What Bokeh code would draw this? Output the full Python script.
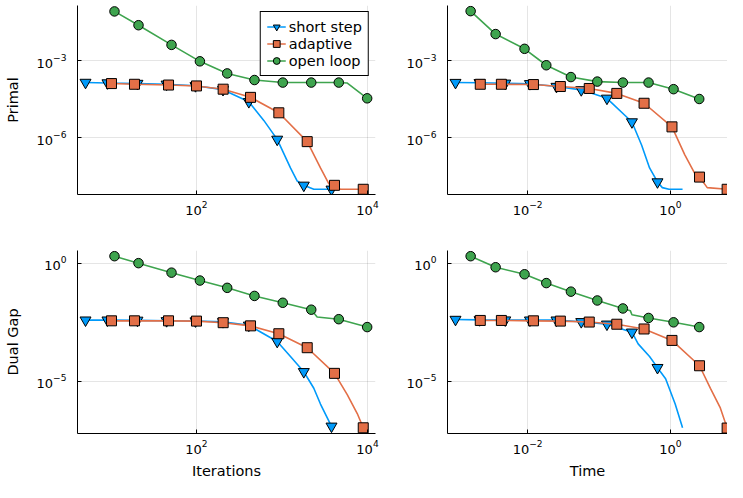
from bokeh.plotting import figure
from bokeh.layouts import gridplot
from bokeh.models import FixedTicker, Legend, LegendItem, Range1d
from bokeh.embed import file_html
from bokeh.resources import INLINE

# ---------------- series meta ----------------
series_names = ["short step", "adaptive", "open loop"]
series_colors = ["#009AFA", "#E36F47", "#3EA44E"]
series_markers = ["inverted_triangle", "square", "circle"]
marker_sizes = [11, 10, 9.5]

# ---------------- axes ----------------
iter_ticks = [1e2, 1e4]
time_ticks = [1e-2, 1e0]
primal_ticks = [1e-6, 1e-3]
dual_ticks = [1e-5, 1e0]

iter_limits = [4.06, 12400]
time_limits = [7.53e-4, 6.31]
primal_limits = [6.15e-9, 0.14]
dual_limits = [6.17e-8, 3.43]

# ---------------- Primal vs Iterations ----------------
pi_short_x = [5.04, 9.10, 20.4, 44.7, 97.3, 204.2, 409.3, 612.4, 879.0, 1256, 1507, 1799, 2355, 3793]
pi_short_y = [1.413e-4, 1.349e-4, 1.288e-4, 1.202e-4, 1.047e-4, 7.41e-5, 2.51e-5, 4.72e-6, 8.61e-7, 6.67e-8, 2.06e-8, 1.40e-8, 9.82e-9, 9.82e-9]
pi_short_mx = [5.04, 9.10, 20.4, 44.7, 97.3, 204.2, 409.3, 879.0, 1799, 3793]
pi_short_my = [1.413e-4, 1.349e-4, 1.288e-4, 1.202e-4, 1.047e-4, 7.41e-5, 2.51e-5, 8.61e-7, 1.40e-8, 9.82e-9]

pi_adapt_x = [10.14, 18.84, 47.1, 100, 205.1, 428.5, 918.3, 1972, 2818, 3524, 4111, 4786, 8913]
pi_adapt_y = [1.279e-4, 1.202e-4, 1.122e-4, 1.035e-4, 7.74e-5, 3.72e-5, 9.31e-6, 7.03e-7, 6.67e-8, 1.63e-8, 1.40e-8, 9.82e-9, 9.82e-9]
pi_adapt_mx = [10.14, 18.84, 47.1, 100, 205.1, 428.5, 918.3, 1972, 4111, 8913]
pi_adapt_my = [1.279e-4, 1.202e-4, 1.122e-4, 1.035e-4, 7.74e-5, 3.72e-5, 9.31e-6, 7.03e-7, 1.40e-8, 9.82e-9]

pi_open_x = [10.99, 20.99, 51.05, 109.6, 228.6, 476.4, 1020.9, 2198, 4613, 5754, 9908]
pi_open_y = [8.24e-2, 2.393e-2, 4.10e-3, 9.40e-4, 3.18e-4, 1.758e-4, 1.40e-4, 1.40e-4, 1.40e-4, 1.349e-4, 3.41e-5]
pi_open_mx = [10.99, 20.99, 51.05, 109.6, 228.6, 476.4, 1020.9, 2198, 4613, 9908]
pi_open_my = [8.24e-2, 2.393e-2, 4.10e-3, 9.40e-4, 3.18e-4, 1.758e-4, 1.40e-4, 1.40e-4, 1.40e-4, 3.41e-5]

# ---------------- Primal vs Time ----------------
pt_short_x = [9.75e-4, 2.118e-3, 4.853e-3, 1.076e-2, 2.535e-2, 5.636e-2, 0.1291, 0.2891, 0.3945, 0.5105, 0.6592, 0.7709, 0.955, 1.48]
pt_short_y = [1.40e-4, 1.38e-4, 1.315e-4, 1.259e-4, 9.82e-5, 7.28e-5, 3.41e-5, 4.1e-6, 5.20e-7, 6.67e-8, 1.89e-8, 1.14e-8, 9.82e-9, 9.82e-9]
pt_short_mx = [9.75e-4, 2.118e-3, 4.853e-3, 1.076e-2, 2.535e-2, 5.636e-2, 0.1291, 0.2891, 0.6592]
pt_short_my = [1.40e-4, 1.38e-4, 1.315e-4, 1.259e-4, 9.82e-5, 7.28e-5, 3.41e-5, 4.1e-6, 1.89e-8]

pt_adapt_x = [2.168e-3, 4.285e-3, 1.205e-2, 2.871e-2, 7.295e-2, 0.1774, 0.4276, 1.052, 1.592, 2.173, 2.559, 3.281, 6.237]
pt_adapt_y = [1.202e-4, 1.202e-4, 1.172e-4, 9.82e-5, 8.24e-5, 5.30e-5, 2.19e-5, 2.64e-6, 2.15e-7, 4.29e-8, 2.93e-8, 1.14e-8, 9.82e-9]
pt_adapt_mx = [2.168e-3, 4.285e-3, 1.205e-2, 2.871e-2, 7.295e-2, 0.1774, 0.4276, 1.052, 2.559, 6.237]
pt_adapt_my = [1.202e-4, 1.202e-4, 1.172e-4, 9.82e-5, 8.24e-5, 5.30e-5, 2.19e-5, 2.64e-6, 2.93e-8, 9.82e-9]

pt_open_x = [1.589e-3, 3.556e-3, 9.04e-3, 1.824e-2, 4.036e-2, 9.46e-2, 0.2158, 0.4943, 1.107, 2.535]
pt_open_y = [8.45e-2, 1.081e-2, 2.884e-3, 6.61e-4, 2.291e-4, 1.528e-4, 1.40e-4, 1.40e-4, 7.74e-5, 3.21e-5]
pt_open_mx = pt_open_x
pt_open_my = pt_open_y

# ---------------- Dual Gap vs Iterations ----------------
di_short_x = [5.04, 9.10, 20.4, 44.7, 97.3, 204.2, 409.3, 879.0, 1256, 1799, 2355, 2818, 3793]
di_short_y = [3.864e-3, 3.864e-3, 3.80e-3, 3.63e-3, 3.548e-3, 3.31e-3, 2.344e-3, 4.82e-4, 1.122e-4, 2.535e-5, 5.06e-6, 1.089e-6, 1.247e-7]
di_short_mx = [5.04, 9.10, 20.4, 44.7, 97.3, 204.2, 409.3, 879.0, 1799, 3793]
di_short_my = [3.864e-3, 3.864e-3, 3.80e-3, 3.63e-3, 3.548e-3, 3.31e-3, 2.344e-3, 4.82e-4, 2.535e-5, 1.247e-7]

di_adapt_x = [10.14, 18.84, 47.1, 100, 205.1, 428.5, 918.3, 1972, 4111, 5794, 7586, 8913]
di_adapt_y = [3.622e-3, 3.622e-3, 3.622e-3, 3.524e-3, 3.02e-3, 2.218e-3, 1.028e-3, 2.636e-4, 2.168e-5, 2.748e-6, 4.315e-7, 1.076e-7]
di_adapt_mx = [10.14, 18.84, 47.1, 100, 205.1, 428.5, 918.3, 1972, 4111, 8913]
di_adapt_my = [3.622e-3, 3.622e-3, 3.622e-3, 3.524e-3, 3.02e-3, 2.218e-3, 1.028e-3, 2.636e-4, 2.168e-5, 1.076e-7]

di_open_x = [10.99, 20.99, 51.05, 109.6, 228.6, 476.4, 1020.9, 2198, 2576, 4613, 9908]
di_open_y = [1.968, 1.0, 0.3963, 0.1837, 9.02e-2, 4.10e-2, 2.104e-2, 1.072e-2, 5.25e-3, 4.25e-3, 1.968e-3]
di_open_mx = [10.99, 20.99, 51.05, 109.6, 228.6, 476.4, 1020.9, 2198, 4613, 9908]
di_open_my = [1.968, 1.0, 0.3963, 0.1837, 9.02e-2, 4.10e-2, 2.104e-2, 1.072e-2, 4.25e-3, 1.968e-3]

# ---------------- Dual Gap vs Time ----------------
dt_short_x = [9.75e-4, 2.118e-3, 4.853e-3, 1.076e-2, 2.535e-2, 5.636e-2, 0.1291, 0.2891, 0.3532, 0.5105, 0.6592, 0.857, 1.167, 1.48]
dt_short_y = [4.13e-3, 3.98e-3, 3.89e-3, 3.864e-3, 3.864e-3, 3.304e-3, 2.60e-3, 1.194e-3, 3.82e-4, 1.114e-4, 3.776e-5, 1.279e-5, 1.089e-6, 1.076e-7]
dt_short_mx = [9.75e-4, 2.118e-3, 4.853e-3, 1.076e-2, 2.535e-2, 5.636e-2, 0.1291, 0.2891, 0.6592]
dt_short_my = [4.13e-3, 3.98e-3, 3.89e-3, 3.864e-3, 3.864e-3, 3.304e-3, 2.60e-3, 1.194e-3, 3.776e-5]

dt_adapt_x = [2.168e-3, 4.285e-3, 1.205e-2, 2.871e-2, 7.295e-2, 0.1774, 0.4276, 1.052, 2.559, 3.639, 4.966, 6.237]
dt_adapt_y = [3.758e-3, 3.758e-3, 3.622e-3, 3.524e-3, 3.214e-3, 2.60e-3, 1.637e-3, 5.37e-4, 4.54e-5, 5.06e-6, 7.94e-7, 1.047e-7]
dt_adapt_mx = [2.168e-3, 4.285e-3, 1.205e-2, 2.871e-2, 7.295e-2, 0.1774, 0.4276, 1.052, 2.559, 6.237]
dt_adapt_my = [3.758e-3, 3.758e-3, 3.622e-3, 3.524e-3, 3.214e-3, 2.60e-3, 1.637e-3, 5.37e-4, 4.54e-5, 1.047e-7]

dt_open_x = [1.589e-3, 3.556e-3, 9.04e-3, 1.824e-2, 4.036e-2, 9.46e-2, 0.2158, 0.2742, 0.2891, 0.4943, 1.107, 2.535]
dt_open_y = [1.968, 0.6714, 0.3388, 0.1432, 6.22e-2, 2.63e-2, 1.208e-2, 9.77e-3, 6.56e-3, 4.786e-3, 3.126e-3, 1.968e-3]
dt_open_mx = [1.589e-3, 3.556e-3, 9.04e-3, 1.824e-2, 4.036e-2, 9.46e-2, 0.2158, 0.4943, 1.107, 2.535]
dt_open_my = [1.968, 0.6714, 0.3388, 0.1432, 6.22e-2, 2.63e-2, 1.208e-2, 4.786e-3, 3.126e-3, 1.968e-3]

FONT = "DejaVu Sans"


def make_panel(xlim, ylim, xticks, yticks, xlabel, ylabel, data,
               fw, fh, mbl, mbr, mbt, mbb):
    p = figure(x_axis_type="log", y_axis_type="log",
               x_range=Range1d(xlim[0], xlim[1]), y_range=Range1d(ylim[0], ylim[1]),
               frame_width=fw, frame_height=fh,
               min_border_left=mbl, min_border_right=mbr,
               min_border_top=mbt, min_border_bottom=mbb,
               output_backend="svg", toolbar_location=None)
    p.outline_line_color = None
    p.background_fill_color = "white"
    p.xaxis.ticker = FixedTicker(ticks=xticks)
    p.yaxis.ticker = FixedTicker(ticks=yticks)
    for ax in (p.xaxis[0], p.yaxis[0]):
        ax.axis_line_color = "black"
        ax.axis_line_width = 1
        ax.major_tick_in = 4
        ax.major_tick_out = 0
        ax.minor_tick_in = 0
        ax.minor_tick_out = 0
        ax.major_tick_line_color = "black"
        ax.major_label_text_font = FONT
        ax.major_label_text_font_size = "13px"
        ax.major_label_text_color = "black"
        ax.axis_label_text_font = FONT
        ax.axis_label_text_font_size = "14.5px"
        ax.axis_label_text_font_style = "normal"
        ax.axis_label_text_color = "black"
    p.xaxis.major_label_standoff = 6
    p.xaxis.axis_label_standoff = 6
    p.yaxis.major_label_standoff = 11
    p.yaxis.axis_label_standoff = 13
    if xlabel:
        p.xaxis.axis_label = xlabel
    if ylabel:
        p.yaxis.axis_label = ylabel
    p.xgrid.grid_line_color = "black"
    p.xgrid.grid_line_alpha = 0.1
    p.ygrid.grid_line_color = "black"
    p.ygrid.grid_line_alpha = 0.1
    rends = []
    for (lx, ly, mx, my), color, marker, size in zip(data, series_colors, series_markers, marker_sizes):
        ln = p.line(lx, ly, line_color=color, line_width=1.6)
        sc = p.scatter(mx, my, marker=marker, size=size, fill_color=color,
                       line_color="black", line_width=1)
        rends.append([ln, sc])
    return p, rends


p1, r1 = make_panel(iter_limits, primal_limits, iter_ticks, primal_ticks, None, "Primal",
                    [(pi_short_x, pi_short_y, pi_short_mx, pi_short_my),
                     (pi_adapt_x, pi_adapt_y, pi_adapt_mx, pi_adapt_my),
                     (pi_open_x, pi_open_y, pi_open_mx, pi_open_my)],
                    298, 189, 77, 16, 5, 52)
p2, _ = make_panel(time_limits, primal_limits, time_ticks, primal_ticks, None, None,
                   [(pt_short_x, pt_short_y, pt_short_mx, pt_short_my),
                    (pt_adapt_x, pt_adapt_y, pt_adapt_mx, pt_adapt_my),
                    (pt_open_x, pt_open_y, pt_open_mx, pt_open_my)],
                   280, 189, 56, 0, 5, 52)
p3, _ = make_panel(iter_limits, dual_limits, iter_ticks, dual_ticks, "Iterations", "Dual Gap",
                   [(di_short_x, di_short_y, di_short_mx, di_short_my),
                    (di_adapt_x, di_adapt_y, di_adapt_mx, di_adapt_my),
                    (di_open_x, di_open_y, di_open_mx, di_open_my)],
                   298, 183, 77, 16, 4, 49)
p4, _ = make_panel(time_limits, dual_limits, time_ticks, dual_ticks, "Time", None,
                   [(dt_short_x, dt_short_y, dt_short_mx, dt_short_my),
                    (dt_adapt_x, dt_adapt_y, dt_adapt_mx, dt_adapt_my),
                    (dt_open_x, dt_open_y, dt_open_mx, dt_open_my)],
                   280, 183, 56, 0, 4, 49)

legend = Legend(items=[LegendItem(label=n, renderers=r) for n, r in zip(series_names, r1)],
                location="top_right")
legend.margin = 6
legend.padding = 6
legend.spacing = 0
legend.border_line_color = "black"
legend.border_line_width = 1
legend.border_line_alpha = 1
legend.background_fill_alpha = 1
legend.label_text_font = FONT
legend.label_text_font_size = "14.5px"
legend.label_text_color = "black"
legend.label_height = 17
legend.glyph_height = 17
legend.glyph_width = 19
legend.label_standoff = 3
p1.add_layout(legend)

grid = gridplot([[p1, p2], [p3, p4]], toolbar_location=None)

open("out.html", "w").write(file_html(grid, INLINE))
